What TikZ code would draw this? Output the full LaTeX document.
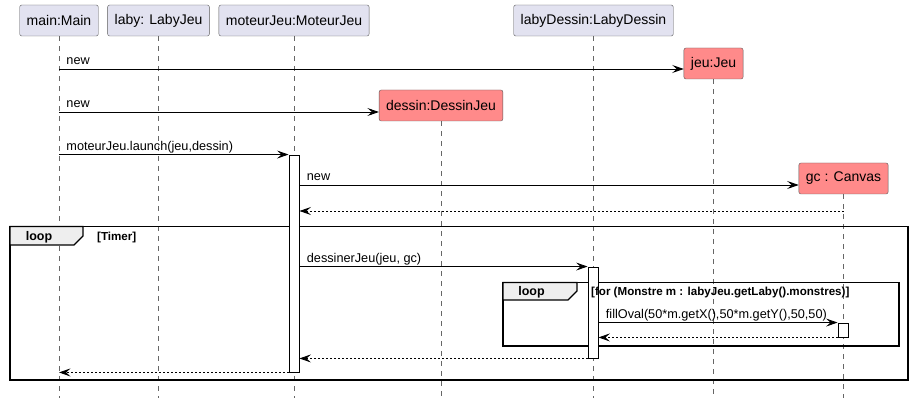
\documentclass[tikz,border=0pt]{standalone}
\usepackage{fontspec}
\setmainfont{Liberation Sans}
\usetikzlibrary{arrows.meta}
\definecolor{partfill}{HTML}{E2E2F0}
\definecolor{newfill}{HTML}{FF8A8A}
\definecolor{tabfill}{HTML}{EEEEEE}
\tikzset{
  participant/.style = {draw=black!65, fill=partfill, rounded corners=2pt,
    minimum height=31pt, inner xsep=7pt, inner ysep=0pt,
    font=\fontsize{14}{16}\selectfont},% participant en haut
  created/.style = {participant, fill=newfill},% participant cree par new
  lifeline/.style = {draw=black!60, dash pattern=on 5pt off 5pt, line width=0.6pt},
  activation/.style = {draw=black, fill=white, minimum width=10pt,
    inner sep=0pt, line width=0.9pt},
  msg/.style = {draw=black, line width=0.9pt,
    -{Stealth[length=11.5pt, width=8pt, inset=4.5pt]}},
  reply/.style = {msg, dash pattern=on 2pt off 2pt},
  msg_label/.style = {anchor=base west, xshift=7pt, yshift=4pt, inner sep=0pt,
    font=\fontsize{12.7}{15}\selectfont},
  frame/.style = {draw=black, line width=1.5pt},
  frame_tab/.style = {draw=black, fill=tabfill, line width=1.2pt},
  frame_name/.style = {anchor=base, inner sep=0pt, font=\fontsize{12.5}{15}\selectfont\bfseries},
  frame_guard/.style = {anchor=base west, inner sep=0pt, font=\fontsize{11.6}{14}\selectfont\bfseries}
}
\begin{document}
\begin{tikzpicture}[x=1pt, y=-1pt]
  \useasboundingbox (0,0) rectangle (913,403);
  % participants
  \node [participant] (main) at (59,20.5) {main:Main};
  \node [participant] (laby) at (158.5,20.5) {laby: LabyJeu};
  \node [participant] (moteur) at (294,20.5) {moteurJeu:MoteurJeu};
  \node [participant] (labyd) at (593.5,20.5) {labyDessin:LabyDessin};
  \node [created] (jeu) at (713.5,63.5) {jeu:Jeu};
  \node [created] (dessin) at (441,105.5) {dessin:DessinJeu};
  \node [created] (gc) at (843.5,178.5) {gc : Canvas};
  % lignes de vie
  \foreach \p in {main,laby,moteur,labyd,jeu,dessin,gc}
    \draw [lifeline] (\p.south) -- (\p |- 0,398);
  % cadres loop
  \draw [frame] (10,226.5) rectangle (908,380);
  \draw [frame_tab] (10,226.5) -- (83,226.5) -- (83,236) -- (74,245) -- (10,245) -- cycle;
  \node [frame_name] (loop1) at (39,240.5) {loop};
  \node [frame_guard] (guard1) at (97,240.5) {[Timer]};
  \draw [frame] (503,282.5) rectangle (899,346);
  \draw [frame_tab] (503,282.5) -- (577,282.5) -- (577,291) -- (568,300) -- (503,300) -- cycle;
  % activations
  \node [activation, minimum height=217pt] (act1) at (294,263.5) {};
  \node [activation, minimum height=91pt] (act2) at (593,312.5) {};
  \node [activation, minimum height=14pt] (act3) at (843,330) {};
  \node [frame_name] (loop2) at (531.5,296) {loop};
  \node [frame_guard] (guard2) at (591,296) {[for (Monstre m : labyJeu.getLaby().monstres)]};
  % messages
  \draw [msg] (main |- 0,69) node [msg_label] {new} -- (jeu.west |- 0,69);
  \draw [msg] (main |- 0,112) node [msg_label] {new} -- (dessin.west |- 0,112);
  \draw [msg] (main |- act1.north) node [msg_label] {moteurJeu.launch(jeu,dessin)} -- (act1.north west);
  \draw [msg] (act1.east |- 0,185) node [msg_label] {new} -- (gc.west |- 0,185);
  \draw [reply] (gc |- 0,211) -- (act1.east |- 0,211);
  \draw [msg] (act1.east |- act2.north) node [msg_label] {dessinerJeu(jeu, gc)} -- (act2.north west);
  \draw [msg] (act2.east |- act3.north) node [msg_label] {fillOval(50*m.getX(),50*m.getY(),50,50)} -- (act3.north west);
  \draw [reply] (act3.south west) -- (act2.east |- act3.south);
  \draw [reply] (act2.south west) -- (act1.east |- act2.south);
  \draw [reply] (act1.south west) -- (main |- act1.south);
\end{tikzpicture}
\end{document}
